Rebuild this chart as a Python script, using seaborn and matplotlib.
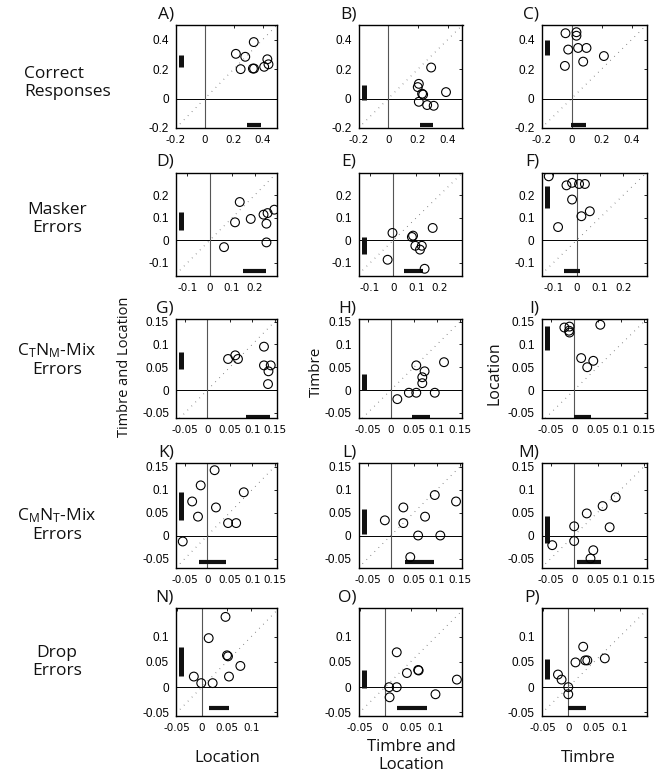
import numpy as np
import pandas as pd
import matplotlib
matplotlib.use("Agg")
import matplotlib.pyplot as plt
import seaborn as sns
from matplotlib.transforms import blended_transform_factory

sns.set_theme(style="white")
plt.rcParams["font.family"] = ["Open Sans", "DejaVu Sans"]
plt.rcParams["mathtext.fontset"] = "custom"
plt.rcParams["mathtext.rm"] = "Open Sans"
plt.rcParams["mathtext.it"] = "Open Sans"
plt.rcParams["text.color"] = "#111111"
plt.rcParams["xtick.color"] = "black"
plt.rcParams["ytick.color"] = "black"

# ---------------- data ----------------
panel_letters = ["A", "B", "C", "D", "E", "F", "G", "H", "I", "K", "L", "M", "N", "O", "P"]
row_labels = ["Correct\nResponses", "Masker\nErrors",
              "C$_{\\mathrm{T}}$N$_{\\mathrm{M}}$-Mix\nErrors",
              "C$_{\\mathrm{M}}$N$_{\\mathrm{T}}$-Mix\nErrors", "Drop\nErrors"]
col_xlabels = ["Location", "Timbre and\nLocation", "Timbre"]

A_x = [0.215, 0.28, 0.339, 0.248, 0.333, 0.341, 0.433, 0.441, 0.411]
A_y = [0.304, 0.284, 0.384, 0.200, 0.204, 0.204, 0.267, 0.233, 0.216]
B_x = [0.289, 0.206, 0.199, 0.228, 0.235, 0.206, 0.262, 0.306, 0.389]
B_y = [0.211, 0.100, 0.078, 0.033, 0.027, -0.022, -0.044, -0.049, 0.044]
C_x = [-0.040, 0.033, 0.033, -0.022, 0.044, 0.100, -0.044, 0.078, 0.216]
C_y = [0.444, 0.451, 0.427, 0.333, 0.344, 0.344, 0.222, 0.251, 0.289]
D_x = [0.134, 0.113, 0.183, 0.064, 0.240, 0.258, 0.288, 0.253, 0.253]
D_y = [0.170, 0.080, 0.095, -0.030, 0.114, 0.121, 0.136, 0.074, -0.009]
E_x = [-0.003, -0.024, 0.081, 0.086, 0.096, 0.124, 0.116, 0.171, 0.136]
E_y = [0.033, -0.086, 0.015, 0.021, -0.024, -0.024, -0.041, 0.055, -0.126]
F_x = [-0.119, -0.043, -0.019, 0.011, 0.036, -0.019, -0.079, 0.021, 0.057]
F_y = [0.284, 0.244, 0.255, 0.250, 0.250, 0.181, 0.059, 0.107, 0.129]
G_x = [0.046, 0.062, 0.068, 0.126, 0.126, 0.141, 0.136, 0.135]
G_y = [0.068, 0.076, 0.068, 0.095, 0.054, 0.054, 0.041, 0.013]
H_x = [0.014, 0.039, 0.055, 0.055, 0.073, 0.068, 0.068, 0.095, 0.115]
H_y = [-0.020, -0.006, -0.006, 0.054, 0.041, 0.028, 0.015, -0.006, 0.061]
I_x = [-0.021, -0.010, -0.011, -0.010, 0.056, 0.015, 0.041, 0.028]
I_y = [0.137, 0.139, 0.130, 0.126, 0.143, 0.070, 0.064, 0.050]
K_x = [0.016, -0.015, -0.034, -0.021, 0.019, 0.081, 0.046, 0.064, -0.055]
K_y = [0.142, 0.109, 0.074, 0.041, 0.061, 0.094, 0.027, 0.027, -0.013]
L_x = [-0.013, 0.027, 0.027, 0.059, 0.074, 0.095, 0.107, 0.141, 0.042]
L_y = [0.033, 0.061, 0.027, 0.000, 0.041, 0.088, 0.000, 0.074, -0.047]
M_x = [0.000, 0.000, -0.047, 0.027, 0.061, 0.089, 0.076, 0.041, 0.035]
M_y = [0.020, -0.012, -0.021, 0.048, 0.064, 0.083, 0.018, -0.032, -0.050]
N_x = [0.048, 0.014, 0.051, 0.053, 0.078, 0.055, -0.016, -0.001, 0.022]
N_y = [0.139, 0.097, 0.063, 0.061, 0.042, 0.021, 0.021, 0.008, 0.008]
O_x = [0.023, 0.043, 0.065, 0.066, 0.008, 0.023, 0.009, 0.099, 0.141]
O_y = [0.069, 0.028, 0.034, 0.033, 0.000, 0.000, -0.020, -0.014, 0.015]
P_x = [-0.020, -0.013, 0.000, 0.000, 0.014, 0.029, 0.033, 0.037, 0.071]
P_y = [0.025, 0.015, 0.000, -0.014, 0.049, 0.080, 0.053, 0.053, 0.057]

# vertical bar (y extent) and horizontal bar (x extent) per panel
vbar_lo = [0.216, -0.011, 0.293, 0.044, -0.059, 0.144, 0.046, 0.000, 0.088, 0.033, 0.003, -0.017, 0.022, -0.002, 0.016]
vbar_hi = [0.293, 0.093, 0.400, 0.124, 0.015, 0.243, 0.083, 0.036, 0.141, 0.094, 0.058, 0.042, 0.079, 0.034, 0.055]
hbar_lo = [0.289, 0.217, -0.004, 0.149, 0.046, -0.053, 0.086, 0.046, 0.000, -0.019, 0.031, 0.005, 0.014, 0.023, 0.000]
hbar_hi = [0.389, 0.300, 0.096, 0.250, 0.129, 0.017, 0.139, 0.084, 0.037, 0.042, 0.094, 0.058, 0.055, 0.083, 0.035]

row_xlims = [(-0.2, 0.5), (-0.15, 0.3), (-0.07, 0.155), (-0.07, 0.155), (-0.052, 0.152)]
row_ylims = [(-0.2, 0.5), (-0.158, 0.3), (-0.062, 0.155), (-0.07, 0.157), (-0.057, 0.156)]
row_xticks = [[-0.2, 0, 0.2, 0.4], [-0.1, 0, 0.1, 0.2], [-0.05, 0, 0.05, 0.1, 0.15],
              [-0.05, 0, 0.05, 0.1, 0.15], [-0.05, 0, 0.05, 0.1]]
row_yticks = [[-0.2, 0, 0.2, 0.4], [-0.1, 0, 0.1, 0.2], [-0.05, 0, 0.05, 0.1, 0.15],
              [-0.05, 0, 0.05, 0.1, 0.15], [-0.05, 0, 0.05, 0.1]]

all_x = [A_x, B_x, C_x, D_x, E_x, F_x, G_x, H_x, I_x, K_x, L_x, M_x, N_x, O_x, P_x]
all_y = [A_y, B_y, C_y, D_y, E_y, F_y, G_y, H_y, I_y, K_y, L_y, M_y, N_y, O_y, P_y]

# ---------------- layout ----------------
W, H = 661, 776
fig = plt.figure(figsize=(W / 100, H / 100), dpi=100)

col_left = [176, 358.5, 541.5]
col_w = [101, 104, 105]
row_top = [25, 172.7, 319.3, 463.3, 608.3]
row_h = [103, 103.3, 99, 104.4, 107.7]
hbar_frac = [0.032, 0.05, 0.017, 0.05, 0.07]

def fmt(v):
    return "0" if v == 0 else f"{v:g}"

for r in range(5):
    for c in range(3):
        i = r * 3 + c
        l, t, w, h = col_left[c], row_top[r], col_w[c], row_h[r]
        ax = fig.add_axes([l / W, 1 - (t + h) / H, w / W, h / H])
        ax.set_xlim(*row_xlims[r])
        ax.set_ylim(*row_ylims[r])
        ax.axline((0, 0), slope=1, color="#666666", lw=0.8, ls=(0, (0.6, 4.5)), zorder=1)
        ax.axhline(0, color="black", lw=0.7, zorder=1)
        ax.axvline(0, color="#555555", lw=0.8, zorder=1)
        df = pd.DataFrame({"x": all_x[i], "y": all_y[i]})
        sns.scatterplot(data=df, x="x", y="y", ax=ax, s=40, marker="o",
                        facecolor="none", edgecolor="black", linewidth=0.8,
                        legend=False, zorder=3)
        ax.collections[-1].set_facecolor("none")
        # bars
        tv = blended_transform_factory(ax.transAxes, ax.transData)
        ax.plot([0.05, 0.05], [vbar_lo[i], vbar_hi[i]], transform=tv,
                color="#111111", lw=3.6, solid_capstyle="butt", zorder=2)
        th = blended_transform_factory(ax.transData, ax.transAxes)
        ax.plot([hbar_lo[i], hbar_hi[i]], [hbar_frac[r], hbar_frac[r]], transform=th,
                color="#111111", lw=3.0, solid_capstyle="butt", zorder=2)
        ax.set_xticks(row_xticks[r])
        ax.set_yticks(row_yticks[r])
        ax.set_xticklabels([fmt(v) for v in row_xticks[r]],
                           fontfamily="Liberation Sans Narrow", fontsize=7.5)
        ax.set_yticklabels([fmt(v) for v in row_yticks[r]],
                           fontfamily="Liberation Sans", fontsize=8.5)
        ax.tick_params(direction="in", length=2, width=0.6, top=True, right=True,
                       colors="black", labelcolor="black")
        ax.tick_params(axis="x", pad=5)
        ax.tick_params(axis="y", pad=5)
        ax.set_xlabel("")
        ax.set_ylabel("")
        for sp in ax.spines.values():
            sp.set_color("black")
            sp.set_linewidth(1.0)
            sp.set_visible(True)
        ax.annotate(panel_letters[i] + ")", xy=(0, 1), xycoords="axes fraction",
                    xytext=(-1.5, 2), textcoords="offset points",
                    ha="right", va="bottom", fontsize=12.5)

# row labels
fig.text(24 / W, 1 - 83 / H, row_labels[0], ha="left", va="center",
         fontsize=12.5, linespacing=1.15, multialignment="left")
for r, yc in zip(range(1, 5), [219, 360, 525, 662]):
    fig.text(57 / W, 1 - yc / H, row_labels[r], ha="center", va="center",
             fontsize=12.5, linespacing=1.15, multialignment="center")

# y labels
fig.text(125 / W, 1 - 367 / H, "Timbre and Location", rotation=90,
         ha="center", va="center", fontsize=10.5)
fig.text(316 / W, 1 - 372 / H, "Timbre", rotation=90, ha="center", va="center", fontsize=11)
fig.text(494 / W, 1 - 373 / H, "Location", rotation=90, ha="center", va="center", fontsize=11.5)

# bottom x labels
fig.text(227 / W, 1 - 758 / H, col_xlabels[0], ha="center", va="center", fontsize=12)
fig.text(411 / W, 1 - 756 / H, col_xlabels[1], ha="center", va="center", fontsize=12,
         linespacing=1.1, multialignment="center")
fig.text(588 / W, 1 - 758 / H, col_xlabels[2], ha="center", va="center", fontsize=12)

fig.savefig("out.png", dpi=100, facecolor="white")
